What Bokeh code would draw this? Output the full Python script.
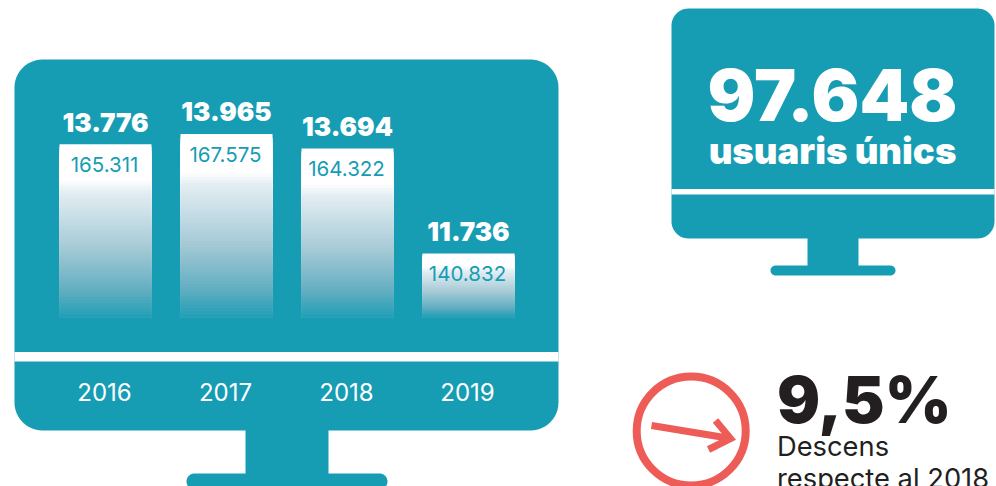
import math
from bokeh.plotting import figure
from bokeh.models import Range1d, ColumnDataSource
from bokeh.core.properties import value
from bokeh.embed import file_html
from bokeh.resources import INLINE

# --- data ---
years = ["2016", "2017", "2018", "2019"]
monthly_avg = ["13.776", "13.965", "13.694", "11.736"]
yearly_labels = ["165.311", "167.575", "164.322", "140.832"]
yearly_values = [165.311, 167.575, 164.322, 140.832]
unique_users = "97.648"
unique_caption = "usuaris únics"
drop_pct = "9,5%"
drop_line1 = "Descens"
drop_line2 = "respecte al 2018"

TEAL = "#169DB4"
CORAL = "#EE5C58"
INK = "#231F20"
HEAVY = value("Inter Black")
BODY = value("Inter")
W, H = 996, 486
BL = 0.39  # the svg backend puts alphabetic text this many em low

p = figure(width=W, height=H, output_backend="svg", toolbar_location=None,
           x_range=Range1d(0, W), y_range=Range1d(H, 0), min_border=0,
           x_axis_type=None, y_axis_type=None)
p.grid.visible = False
p.outline_line_color = None
p.background_fill_color = "white"
p.border_fill_color = "white"

# data scales for the bars (the original's baseline is truncated)
PX_PER_UNIT, BASE_VALUE, BASE_PX = 4.465, 126.5, 317
X0, DX = 105, 121
p.extra_y_ranges["visits"] = Range1d(BASE_VALUE + (BASE_PX - H) / PX_PER_UNIT,
                                     BASE_VALUE + BASE_PX / PX_PER_UNIT)
p.extra_x_ranges["year"] = Range1d(-X0 / DX, (W - X0) / DX)


def rounded(l, t, r, b, rad):
    xs, ys = [], []
    for cx, cy, a0 in ((r - rad, t + rad, -90), (r - rad, b - rad, 0),
                       (l + rad, b - rad, 90), (l + rad, t + rad, 180)):
        for k in range(13):
            a = math.radians(a0 + 7.5 * k)
            xs.append(cx + rad * math.cos(a))
            ys.append(cy + rad * math.sin(a))
    return xs, ys


def monitor(l, t, r, b, rad, sep_t, sep_b, st_l, st_r, st_b, base_l, base_r, base_b, base_rad):
    xs, ys = rounded(l, t, r, b, rad)
    p.patch(xs, ys, fill_color=TEAL, line_color=None)
    p.quad(left=[st_l], right=[st_r], top=[b - 1], bottom=[st_b + 1], fill_color=TEAL, line_color=None)
    xs, ys = rounded(base_l, st_b, base_r, base_b, base_rad)
    p.patch(xs, ys, fill_color=TEAL, line_color=None)
    p.quad(left=[l], right=[r], top=[sep_t], bottom=[sep_b], fill_color="white", line_color=None)


monitor(14, 59, 558, 430, 28, 351.5, 361, 245, 328, 473, 186, 387, 489, 8)
monitor(671, 8, 994, 238, 17, 188.5, 194, 807, 858, 265, 770, 895, 275, 5)

# gradient bars: overlapping slices, each running from its own top to the base
BAR_W = 92 / DX
STEPS = 60
STOPS = [(0, (255, 255, 255)), (0.2, (255, 255, 255)), (0.28, (226, 237, 242)),
         (0.6, (165, 202, 214)), (0.85, (98, 174, 193)), (1, (36, 160, 182))]


def grad(f):
    for (f0, c0), (f1, c1) in zip(STOPS, STOPS[1:]):
        if f <= f1:
            t = (f - f0) / (f1 - f0)
            return "#%02X%02X%02X" % tuple(round(a + (b - a) * t) for a, b in zip(c0, c1))
    return "#%02X%02X%02X" % STOPS[-1][1]


left, right, top, bottom, colors = [], [], [], [], []
for i, v in enumerate(yearly_values):
    for s in range(STEPS):
        left.append(i - BAR_W / 2)
        right.append(i + BAR_W / 2)
        top.append(BASE_VALUE + (v - BASE_VALUE) * (1 - s / STEPS))
        bottom.append(BASE_VALUE)
        colors.append(grad(s / (STEPS - 1)))
p.quad(left=left, right=right, top=top, bottom=bottom, fill_color=colors, line_color=None,
       x_range_name="year", y_range_name="visits")

# labels anchored to the bars
src = ColumnDataSource(dict(x=list(range(4)), y=yearly_values, big=monthly_avg, small=yearly_labels))
p.text("x", "y", text="big", source=src, x_range_name="year", y_range_name="visits",
       text_font=HEAVY, text_font_size="26px", text_color="white",
       text_align="center", text_baseline="alphabetic", y_offset=-12 - BL * 26)
p.text("x", "y", text="small", source=src, x_range_name="year", y_range_name="visits",
       text_font=BODY, text_font_size="20.5px", text_color=TEAL,
       text_align="center", text_baseline="alphabetic", x_offset=-1, y_offset=28 - BL * 20.5)
p.text([X0 + DX * i - 1 for i in range(4)], [400.5 - BL * 24] * 4, text=years,
       text_font=BODY, text_font_size="24px", text_color="white",
       text_align="center", text_baseline="alphabetic")

# right monitor text
p.text([832], [122 - BL * 71], text=[unique_users], text_font=HEAVY,
       text_font_size="71px", text_color="white", text_align="center", text_baseline="alphabetic")
p.text([832], [165 - BL * 36.5], text=[unique_caption], text_font=HEAVY,
       text_font_size="36.5px", text_color="white", text_align="center", text_baseline="alphabetic")

# drop icon
p.circle([690.7], [430.5], radius=54.5, fill_color=None, line_color=CORAL, line_width=8)
p.line([651, 727], [425, 437.5], line_color=CORAL, line_width=7)
p.line([715, 730, 708], [420, 438, 449], line_color=CORAL, line_width=7, line_join="miter")

p.text([776.5], [424 - BL * 64], text=[drop_pct], text_font=HEAVY,
       text_font_size="64px", text_color=INK, text_align="left", text_baseline="alphabetic")
p.text([776.5], [457 - BL * 27.3], text=[drop_line1], text_font=BODY, text_font_size="27.3px",
       text_color=INK, text_align="left", text_baseline="alphabetic")
p.text([776.5], [489 - BL * 27.3], text=[drop_line2], text_font=BODY, text_font_size="27.3px",
       text_color=INK, text_align="left", text_baseline="alphabetic")

open("out.html", "w").write(file_html(p, INLINE))
